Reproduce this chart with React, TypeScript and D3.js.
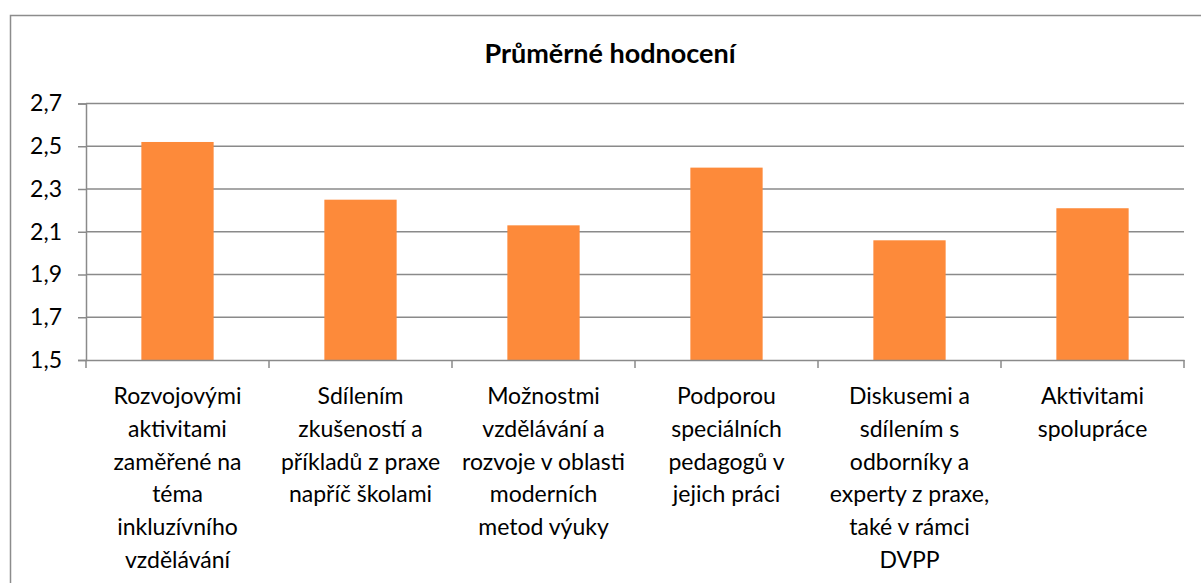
import * as d3 from 'd3'
import { useEffect, useRef } from 'react'

const categories = [
  ['Rozvojovými', 'aktivitami', 'zaměřené na', 'téma', 'inkluzívního', 'vzdělávání'],
  ['Sdílením', 'zkušeností a', 'příkladů z praxe', 'napříč školami'],
  ['Možnostmi', 'vzdělávání a', 'rozvoje v oblasti', 'moderních', 'metod výuky'],
  ['Podporou', 'speciálních', 'pedagogů v', 'jejich práci'],
  ['Diskusemi a', 'sdílením s', 'odborníky a', 'experty z praxe,', 'také v rámci', 'DVPP'],
  ['Aktivitami', 'spolupráce'],
]
const values = [2.52, 2.25, 2.13, 2.4, 2.06, 2.21]
const yTicks = [1.5, 1.7, 1.9, 2.1, 2.3, 2.5, 2.7]
const title = 'Průměrné hodnocení'

const FONT = 'Lato, "Open Sans", sans-serif'

const App = () => {
  const svgRef = useRef<SVGSVGElement>(null)

  useEffect(() => {
    const svg = d3.select(svgRef.current)
    svg.selectAll('*').remove()

    const left = 86
    const right = 1184
    const top = 103.5
    const bottom = 360

    // outer chart border
    svg
      .append('rect')
      .attr('x', 10.5)
      .attr('y', 15.5)
      .attr('width', 1200)
      .attr('height', 600)
      .attr('fill', 'white')
      .attr('stroke', '#8c8c8c')
      .attr('stroke-width', 1.5)

    const x = d3
      .scaleBand()
      .domain(categories.map((_, i) => String(i)))
      .range([left, right])
      .padding(0)

    const y = d3.scaleLinear().domain([1.5, 2.7]).range([bottom, top])

    // gridlines
    svg
      .selectAll('.grid')
      .data(yTicks.slice(1))
      .enter()
      .append('line')
      .attr('x1', left)
      .attr('x2', right)
      .attr('y1', (d) => y(d))
      .attr('y2', (d) => y(d))
      .attr('stroke', '#8a8a8a')
      .attr('stroke-width', 1.5)

    // bars
    const barW = x.bandwidth() * 0.395
    svg
      .selectAll('.bar')
      .data(values)
      .enter()
      .append('rect')
      .attr('x', (_, i) => x(String(i))! + x.bandwidth() / 2 - barW / 2)
      .attr('y', (d) => y(d))
      .attr('width', barW)
      .attr('height', (d) => bottom - y(d))
      .attr('fill', '#fd8a3a')

    // y axis
    const yAxis = d3
      .axisLeft(y)
      .tickValues(yTicks)
      .tickSize(8)
      .tickPadding(16)
      .tickFormat((d) => d3.format('.1f')(d as number).replace('.', ','))
    const gy = svg.append('g').attr('transform', `translate(${left},0)`).call(yAxis)
    gy.select('.domain').attr('stroke', '#8a8a8a').attr('stroke-width', 1.5)
    gy.selectAll('.tick line').attr('stroke', '#8a8a8a').attr('stroke-width', 1.5)
    gy.selectAll('.tick text')
      .attr('font-family', FONT)
      .attr('font-size', 23)
      .attr('fill', '#000')

    // x axis
    const xAxis = d3
      .axisBottom(x)
      .tickSize(0)
      .tickFormat(() => '')
    const gx = svg.append('g').attr('transform', `translate(0,${bottom})`).call(xAxis)
    gx.select('.domain').attr('stroke', '#8a8a8a').attr('stroke-width', 1.5)
    const bounds = categories.map((_, i) => x(String(i))!).concat([right])
    svg
      .selectAll('.xtick')
      .data(bounds)
      .enter()
      .append('line')
      .attr('x1', (d) => d)
      .attr('x2', (d) => d)
      .attr('y1', bottom)
      .attr('y2', bottom + 8)
      .attr('stroke', '#8a8a8a')
      .attr('stroke-width', 1.5)

    // category labels
    categories.forEach((lines, i) => {
      const cx = x(String(i))! + x.bandwidth() / 2
      const t = svg
        .append('text')
        .attr('text-anchor', 'middle')
        .attr('font-family', FONT)
        .attr('font-size', 23)
        .attr('fill', '#000')
      lines.forEach((line, j) => {
        t.append('tspan')
          .attr('x', cx)
          .attr('y', 404 + j * 32.8)
          .text(line)
      })
    })

    // title
    svg
      .append('text')
      .attr('x', 610)
      .attr('y', 63)
      .attr('text-anchor', 'middle')
      .attr('font-family', FONT)
      .attr('font-weight', 'bold')
      .attr('font-size', 27)
      .attr('fill', '#000')
      .text(title)
  }, [])

  return (
    <svg
      ref={svgRef}
      width={1201}
      height={583}
      style={{ position: 'absolute', left: 0, top: 0, background: 'white' }}
    />
  )
}

export default App
